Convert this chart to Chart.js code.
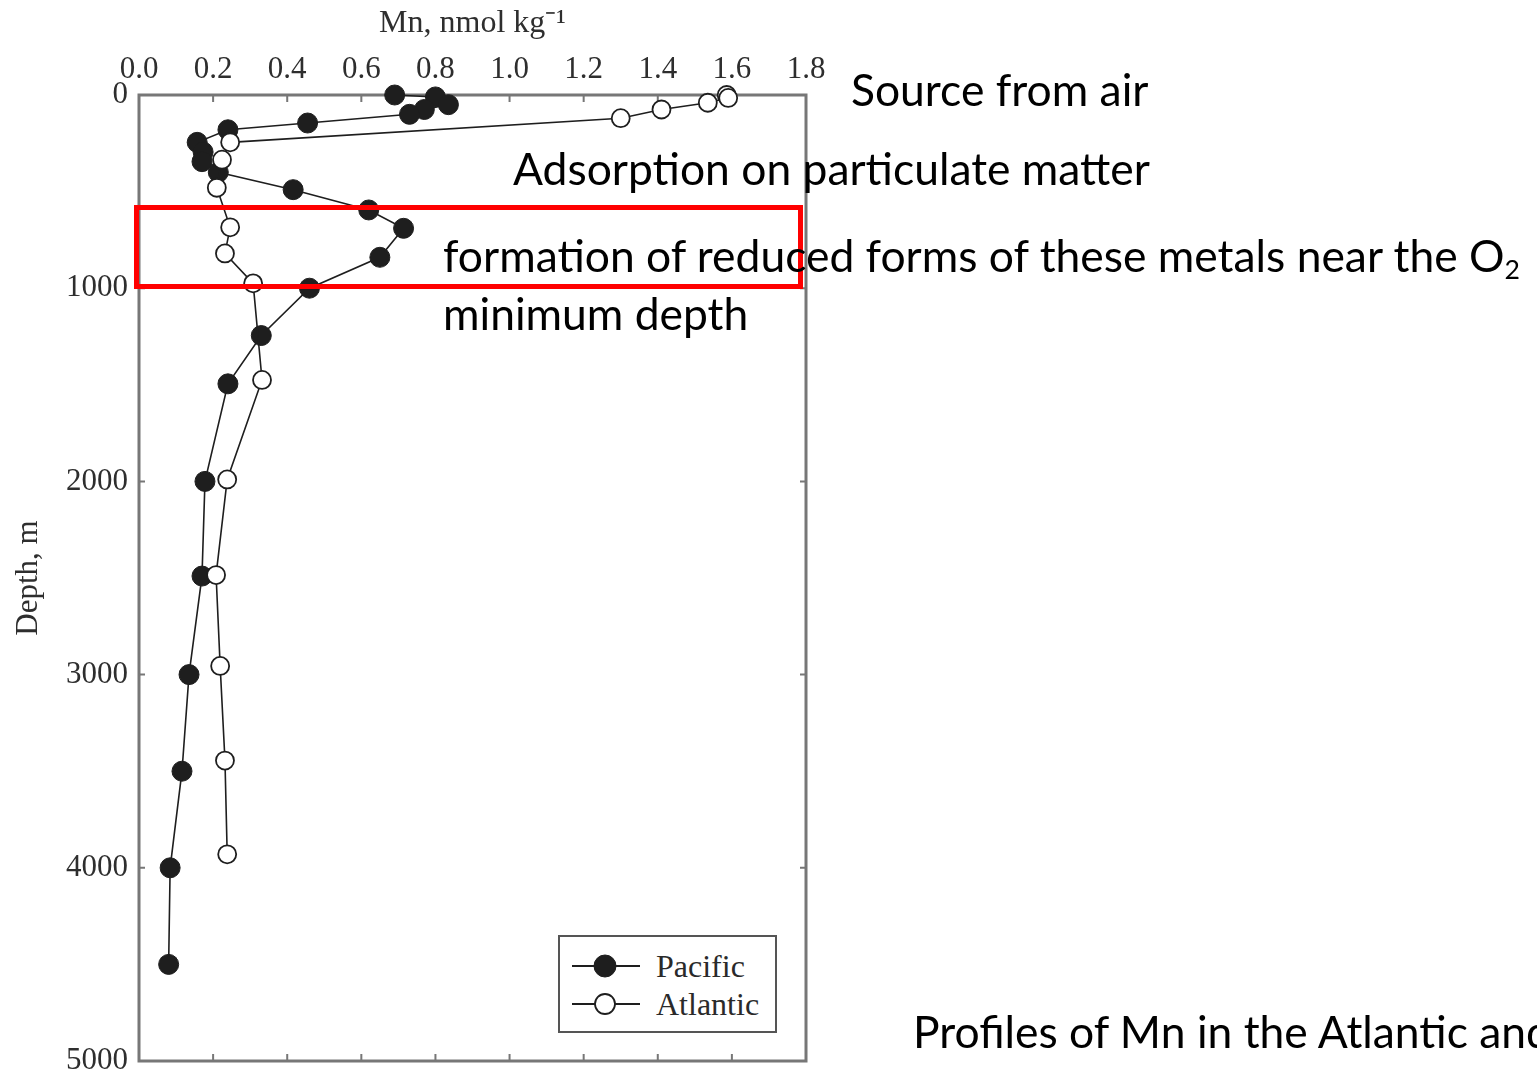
<!DOCTYPE html>
<html>
<head>
<meta charset="utf-8">
<title>Mn profiles – Atlantic and Pacific</title>
<script src="https://cdn.jsdelivr.net/npm/chart.js@4.4.1/dist/chart.umd.min.js"></script>
<style>
  html, body { margin: 0; padding: 0; background: #fff; overflow: hidden; }
  #wrap { position: relative; width: 1537px; height: 1075px; overflow: hidden; }
  #chart { position: absolute; left: 0; top: 0; }
  .note {
    position: absolute; white-space: nowrap; line-height: 1;
    font-family: Lato, 'Noto Sans', sans-serif; font-size: 44.4px; color: #000;
  }
  .note sub { font-size: 0.6em; line-height: 0; vertical-align: -0.28em; }
  #oxbox {
    position: absolute; left: 134px; top: 205px; width: 669px; height: 84px;
    border: 5px solid #ff0000; box-sizing: border-box;
  }
  #legend {
    position: absolute; left: 558px; top: 935px; width: 219px; height: 98px;
    border: 2px solid #555; box-sizing: border-box; background: #fff;
    font-family: 'Liberation Serif', serif; font-size: 32px; color: #2a2a2a;
  }
  .leg-row { position: absolute; left: 12px; height: 34px; display: flex; align-items: center; }
  .leg-row svg { display: block; margin-right: 16px; }
</style>
</head>
<body>
<div id="wrap">
  <canvas id="chart" width="1537" height="1075"></canvas>
  <div id="oxbox"></div>
  <div class="note" style="left:851px; top:67px;">Source from air</div>
  <div class="note" style="left:513px; top:146px;">Adsorption on particulate matter</div>
  <div class="note" style="left:443px; top:233px;">formation of reduced forms of these metals near the O<sub>2</sub></div>
  <div class="note" style="left:443px; top:291px;">minimum depth</div>
  <div class="note" style="left:913px; top:1009px;">Profiles of Mn in the Atlantic and</div>
  <div id="legend"></div>
</div>

<script>
'use strict';

/* ---- Data ---- */
const pacificMn    = [0.69, 0.80, 0.835, 0.77, 0.73, 0.455, 0.24, 0.157, 0.173, 0.17, 0.214, 0.416, 0.62, 0.714, 0.65, 0.46, 0.33, 0.24, 0.178, 0.17, 0.135, 0.116, 0.084, 0.08];
const pacificDepth = [0, 10, 50, 75, 100, 145, 180, 245, 295, 345, 400, 490, 595, 690, 840, 1000, 1245, 1495, 2000, 2490, 3000, 3500, 4000, 4500];

const atlanticMn    = [1.586, 1.59, 1.535, 1.41, 1.30, 0.246, 0.224, 0.21, 0.246, 0.232, 0.308, 0.332, 0.238, 0.208, 0.219, 0.232, 0.238];
const atlanticDepth = [0, 15, 40, 75, 120, 245, 335, 480, 685, 820, 975, 1475, 1990, 2485, 2955, 3445, 3930];

const mnTicks    = [0.0, 0.2, 0.4, 0.6, 0.8, 1.0, 1.2, 1.4, 1.6, 1.8];
const depthTicks = [0, 1000, 2000, 3000, 4000, 5000];

const INK = '#1e1e1e';
const LABEL = '#2e2e2e';
const SERIF = "'Liberation Serif', 'Times New Roman', serif";

/* ---- Frame with inward tick marks on all four sides ---- */
const frameTicks = {
  id: 'frameTicks',
  beforeDatasetsDraw(chart) {
    const { ctx, chartArea: a, scales: { x, y } } = chart;
    ctx.save();
    ctx.strokeStyle = '#777';
    ctx.lineWidth = 3;
    ctx.strokeRect(a.left, a.top, a.right - a.left, a.bottom - a.top);
    ctx.lineWidth = 2;
    ctx.beginPath();
    mnTicks.slice(1, -1).forEach(v => {
      const px = x.getPixelForValue(v);
      ctx.moveTo(px, a.top); ctx.lineTo(px, a.top + 7);
      ctx.moveTo(px, a.bottom); ctx.lineTo(px, a.bottom - 7);
    });
    depthTicks.slice(1, -1).forEach(v => {
      const py = y.getPixelForValue(v);
      ctx.moveTo(a.left, py); ctx.lineTo(a.left + 6, py);
      ctx.moveTo(a.right, py); ctx.lineTo(a.right - 6, py);
    });
    ctx.stroke();
    ctx.restore();
  }
};

const toPoints = (xs, ys) => xs.map((v, i) => ({ x: v, y: ys[i] }));

const datasets = [
  {
    label: 'Pacific',
    data: toPoints(pacificMn, pacificDepth),
    showLine: true,
    borderColor: INK,
    borderWidth: 1.6,
    pointRadius: 10,
    pointBackgroundColor: INK,
    pointBorderColor: INK,
    pointBorderWidth: 1,
    clip: false,
    order: 2
  },
  {
    label: 'Atlantic',
    data: toPoints(atlanticMn, atlanticDepth),
    showLine: true,
    borderColor: INK,
    borderWidth: 1.6,
    pointRadius: 9,
    pointBackgroundColor: '#fff',
    pointBorderColor: INK,
    pointBorderWidth: 1.8,
    clip: false,
    order: 1
  }
];

const chart = new Chart(document.getElementById('chart'), {
  type: 'scatter',
  data: { datasets },
  plugins: [frameTicks],
  options: {
    responsive: false,
    animation: false,
    layout: { padding: { left: 0, top: 0, right: 731, bottom: 14 } },
    plugins: { legend: { display: false }, tooltip: { enabled: false } },
    scales: {
      x: {
        type: 'linear',
        position: 'top',
        min: 0,
        max: 1.8,
        afterFit: s => { s.height = 95; },
        afterBuildTicks: s => { s.ticks = mnTicks.map(v => ({ value: v })); },
        grid: { display: false, drawTicks: false },
        border: { display: false },
        ticks: {
          padding: 7,
          color: LABEL,
          font: { family: SERIF, size: 31 },
          callback: v => Number(v).toFixed(1)
        },
        title: {
          display: true,
          text: 'Mn, nmol kg⁻¹',
          color: LABEL,
          font: { family: SERIF, size: 32 },
          padding: { top: 4, bottom: 0 }
        }
      },
      y: {
        type: 'linear',
        reverse: true,
        min: 0,
        max: 5000,
        afterFit: s => { s.width = 139; s.paddingTop = 0; s.paddingBottom = 0; },
        afterBuildTicks: s => { s.ticks = depthTicks.map(v => ({ value: v })); },
        grid: { display: false, drawTicks: false },
        border: { display: false },
        ticks: {
          padding: 11,
          color: LABEL,
          font: { family: SERIF, size: 31 },
          callback: v => String(v)
        },
        title: {
          display: true,
          text: 'Depth, m',
          color: LABEL,
          font: { family: SERIF, size: 31 },
          padding: { top: 10, bottom: 0 }
        }
      }
    }
  }
});

/* ---- Legend box inside the plot ---- */
function buildLegend() {
  const box = document.getElementById('legend');
  chart.data.datasets.forEach((ds, i) => {
    const row = document.createElement('div');
    row.className = 'leg-row';
    row.style.top = (12 + i * 38) + 'px';
    const r = ds.pointRadius + 1;
    row.innerHTML =
      '<svg width="68" height="30" viewBox="0 0 68 30">' +
      '<line x1="0" y1="15" x2="68" y2="15" stroke="' + ds.borderColor + '" stroke-width="2"/>' +
      '<circle cx="33" cy="15" r="' + r + '" fill="' + ds.pointBackgroundColor + '" stroke="' + ds.pointBorderColor + '" stroke-width="' + ds.pointBorderWidth + '"/>' +
      '</svg><span>' + ds.label + '</span>';
    box.appendChild(row);
  });
}
buildLegend();
</script>
</body>
</html>
